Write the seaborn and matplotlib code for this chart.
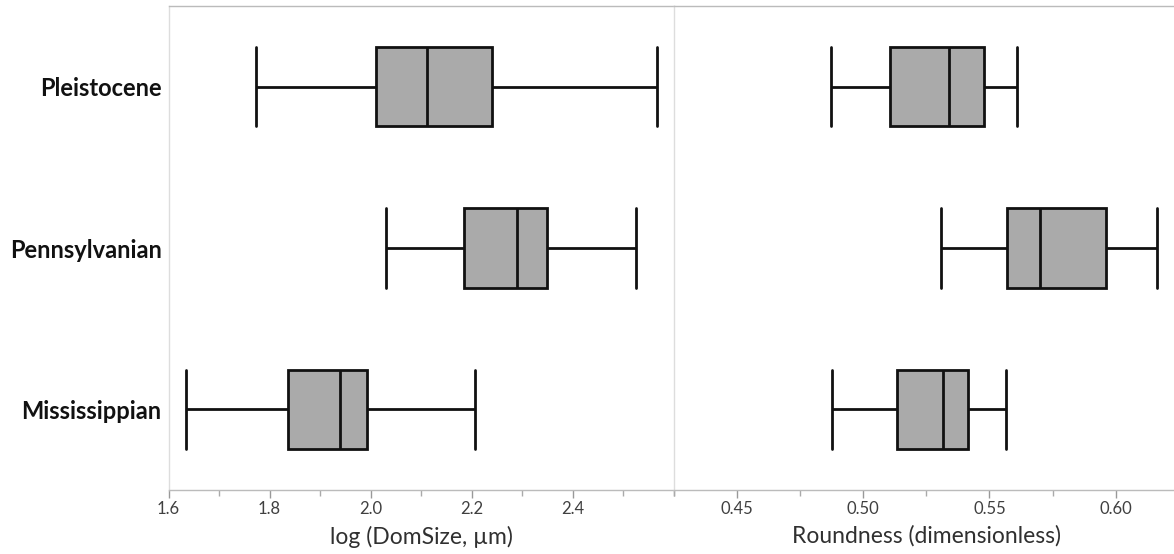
import numpy as np
import pandas as pd
import matplotlib
matplotlib.use("Agg")
import matplotlib.pyplot as plt
import seaborn as sns
from matplotlib.ticker import MultipleLocator

# Five-number summaries: min, Q1, median, Q3, max
periods = ["Pleistocene", "Pennsylvanian", "Mississippian"]
domsize = {
    "Pleistocene":   [1.774, 2.011, 2.112, 2.240, 2.568],
    "Pennsylvanian": [2.030, 2.185, 2.291, 2.350, 2.526],
    "Mississippian": [1.634, 1.837, 1.939, 1.992, 2.207],
}
roundness = {
    "Pleistocene":   [0.4873, 0.5107, 0.5340, 0.5477, 0.5609],
    "Pennsylvanian": [0.5310, 0.5568, 0.5701, 0.5962, 0.6162],
    "Mississippian": [0.4877, 0.5136, 0.5318, 0.5417, 0.5564],
}
xlabels = ["log (DomSize, µm)", "Roundness (dimensionless)"]
xticks_left = [1.6, 1.8, 2.0, 2.2, 2.4]
xticks_right = [0.45, 0.50, 0.55, 0.60]

def to_df(d):
    rows = [(p, v) for p in periods for v in d[p]]
    return pd.DataFrame(rows, columns=["period", "value"])

sns.set_theme(style="white")
plt.rcParams["font.family"] = ["Lato", "DejaVu Sans"]

W, H = 1174, 554
fig = plt.figure(figsize=(W / 100, H / 100), dpi=100)
bottom = 1 - 490 / H
height = (490 - 6) / H
ax1 = fig.add_axes([168.6 / W, bottom, (673.5 - 168.6) / W, height])
ax2 = fig.add_axes([673.5 / W, bottom, (1179 - 673.5) / W, height])

for ax, d, lim, ticks, lab in [
    (ax1, domsize, (1.6, 2.6), xticks_left, xlabels[0]),
    (ax2, roundness, (0.425, 0.625), xticks_right, xlabels[1]),
]:
    sns.boxplot(data=to_df(d), x="value", y="period", order=periods, orient="h",
                whis=np.inf, color="#AAAAAA", saturation=1, linecolor="#111111",
                linewidth=2, width=0.49, capwidths=0.49, ax=ax)
    ax.set_xlim(*lim)
    ax.set_ylim(2.5, -0.5)
    ax.set_xticks(ticks)
    ax.set_xticklabels([f"{t:.1f}" if ax is ax1 else f"{t:.2f}" for t in ticks])
    ax.xaxis.set_minor_locator(MultipleLocator(0.1 if ax is ax1 else 0.025))
    ax.tick_params(axis="x", which="major", length=6, width=1, color="#999999",
                   labelsize=12, labelcolor="#404040", pad=2, bottom=True, direction="out")
    ax.tick_params(axis="x", which="minor", length=4, width=1, color="#aaaaaa",
                   bottom=True, direction="out")
    ax.set_xlabel(lab, fontsize=16.5, color="#303030", labelpad=6)
    ax.set_ylabel("")
    for s in ["top", "bottom"]:
        ax.spines[s].set_visible(True)
        ax.spines[s].set_color("#bbbbbb")
        ax.spines[s].set_linewidth(1)
    ax.spines["left"].set_color("#dddddd")
    ax.spines["left"].set_linewidth(1)
    ax.spines["right"].set_visible(False)

ax1.tick_params(axis="y", length=0, pad=5)
for t in ax1.get_yticklabels():
    t.set_fontweight("bold")
    t.set_fontsize(17)
    t.set_color("#111111")
ax2.tick_params(axis="y", left=False, labelleft=False)
ax2.set_yticklabels([])

fig.savefig("out.png", dpi=100, facecolor="white")
